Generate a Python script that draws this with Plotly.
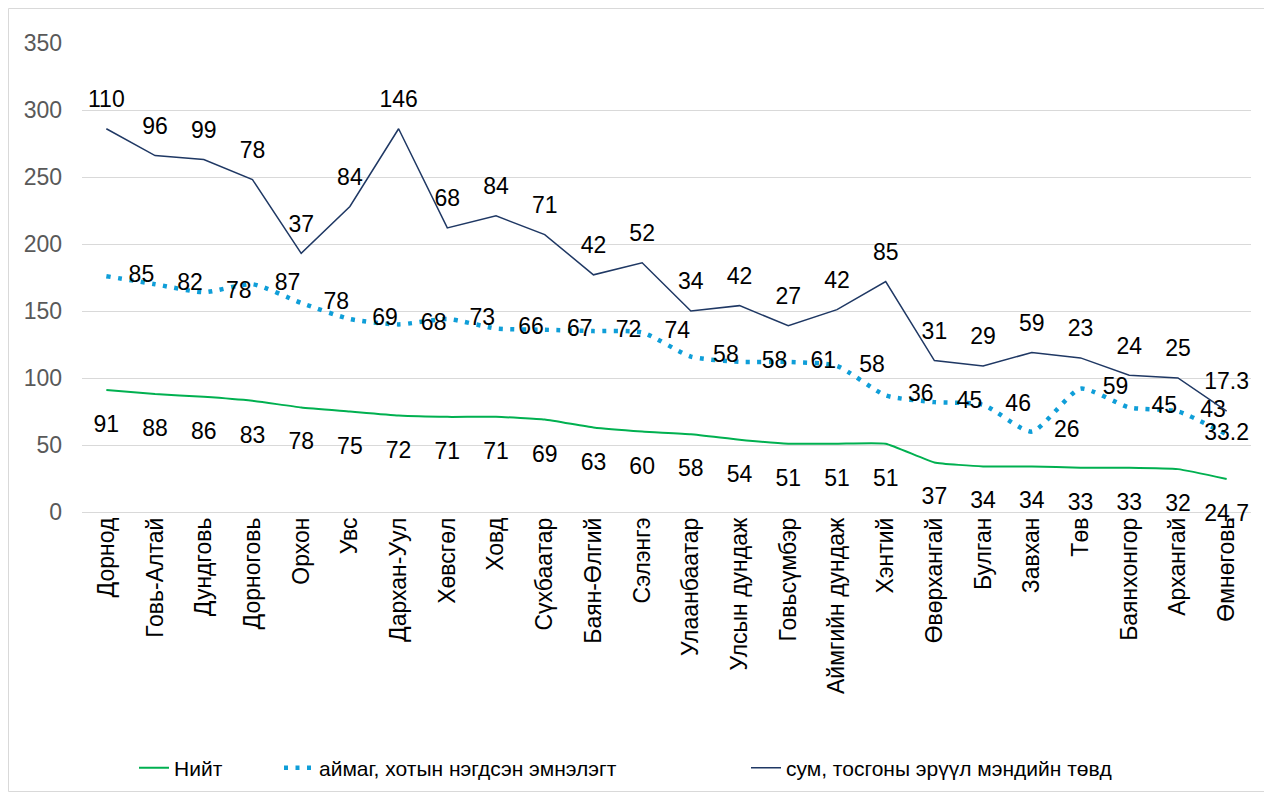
import plotly.graph_objects as go

categories = ["Дорнод", "Говь-Алтай", "Дундговь", "Дорноговь", "Орхон", "Увс",
              "Дархан-Уул", "Хөвсгөл", "Ховд", "Сүхбаатар", "Баян-Өлгий", "Сэлэнгэ",
              "Улаанбаатар", "Улсын дундаж", "Говьсүмбэр", "Аймгийн дундаж", "Хэнтий",
              "Өвөрхангай", "Булган", "Завхан", "Төв", "Баянхонгор", "Архангай", "Өмнөговь"]

niit = [91, 88, 86, 83, 78, 75, 72, 71, 71, 69, 63, 60, 58, 54, 51, 51, 51,
        37, 34, 34, 33, 33, 32, 24.7]
aimag = [85, 82, 78, 87, 78, 69, 68, 73, 66, 67, 72, 74, 58, 58, 61, 58, 36,
         45, 46, 26, 59, 45, 43, 33.2]
sum_tov = [110, 96, 99, 78, 37, 84, 146, 68, 84, 71, 42, 52, 34, 42, 27, 42, 85,
           31, 29, 59, 23, 24, 25, 17.3]

names = ["Нийт", "аймаг, хотын нэгдсэн эмнэлэгт", "сум, тосгоны эрүүл мэндийн төвд"]

FONT = "Liberation Sans, Arial, sans-serif"
FS = 23
LFS = 21
CLEAR = "rgba(0,0,0,0)"

W, H = 1264, 784
ML, MT, MR = 74, 35, 21
PLOT_W = W - ML - MR
PLOT_BOTTOM = 504
PLOT_H = PLOT_BOTTOM - MT


def fmt(v):
    return ("%g" % v)


# label offset is set through the (invisible) marker radius; last label kept inside the page edge
aimag_sizes = [34] * (len(aimag) - 1) + [0]
aimag_pos = ["middle right"] * (len(aimag) - 1) + ["middle center"]

fig = go.Figure()
fig.add_trace(go.Scatter(
    x=categories, y=niit, name=names[0], stackgroup="one", fill="none",
    mode="lines+markers+text", text=[fmt(v) for v in niit], textposition="bottom center",
    marker=dict(size=38, color=CLEAR, line=dict(width=0)),
    line=dict(color="#00b050", width=2, shape="spline", smoothing=0.4),
    textfont=dict(family=FONT, size=FS, color="#000000"), cliponaxis=False,
    legend="legend"))
fig.add_trace(go.Scatter(
    x=categories, y=aimag, name=names[1], stackgroup="one", fill="none",
    mode="lines+markers+text", text=[fmt(v) for v in aimag], textposition=aimag_pos,
    marker=dict(size=aimag_sizes, color=CLEAR, line=dict(width=0)),
    line=dict(color="#0f9ed8", width=4.5, dash="4px,7.5px", shape="spline", smoothing=0.6),
    textfont=dict(family=FONT, size=FS, color="#000000"), cliponaxis=False,
    legend="legend2"))
fig.add_trace(go.Scatter(
    x=categories, y=sum_tov, name=names[2], stackgroup="one", fill="none",
    mode="lines+markers+text", text=[fmt(v) for v in sum_tov], textposition="top center",
    marker=dict(size=24, color=CLEAR, line=dict(width=0)),
    line=dict(color="#1f3864", width=1.5),
    textfont=dict(family=FONT, size=FS, color="#000000"), cliponaxis=False,
    legend="legend3"))

leg_y = (PLOT_BOTTOM - 760) / PLOT_H
leg_common = dict(orientation="h", xanchor="left", y=leg_y, yanchor="middle",
                  font=dict(family=FONT, size=LFS, color="#000000"),
                  bgcolor=CLEAR, itemwidth=30)

fig.update_layout(
    width=W, height=H,
    margin=dict(l=ML, r=MR, t=MT, b=H - PLOT_BOTTOM, autoexpand=False),
    paper_bgcolor="white", plot_bgcolor="white",
    font=dict(family=FONT, size=FS, color="#000000"),
    showlegend=True,
    legend=dict(x=(126 - ML) / PLOT_W, **leg_common),
    legend2=dict(x=(271 - ML) / PLOT_W, **leg_common),
    legend3=dict(x=(738 - ML) / PLOT_W, **leg_common),
    xaxis=dict(tickangle=-90, showgrid=False, showline=False, ticks="",
               range=[-0.5, len(categories) - 0.5], autorange=False,
               tickfont=dict(family=FONT, size=FS, color="#000000")),
    yaxis=dict(range=[0, 350], dtick=50, showgrid=True, gridcolor="#d9d9d9", gridwidth=1,
               zeroline=True, zerolinecolor="#d9d9d9", zerolinewidth=1,
               showline=False, ticks="", ticklabelstandoff=19,
               tickfont=dict(family=FONT, size=FS, color="#595959")),
    shapes=[dict(type="rect", xref="paper", yref="paper",
                 x0=(0.5 - ML) / PLOT_W, x1=(1262 - ML) / PLOT_W,
                 y0=(PLOT_BOTTOM - (H - 0.5)) / PLOT_H, y1=(PLOT_BOTTOM - 0.5) / PLOT_H,
                 line=dict(color="#d9d9d9", width=1), fillcolor=CLEAR, layer="below")],
)

fig.write_html("out.html")
